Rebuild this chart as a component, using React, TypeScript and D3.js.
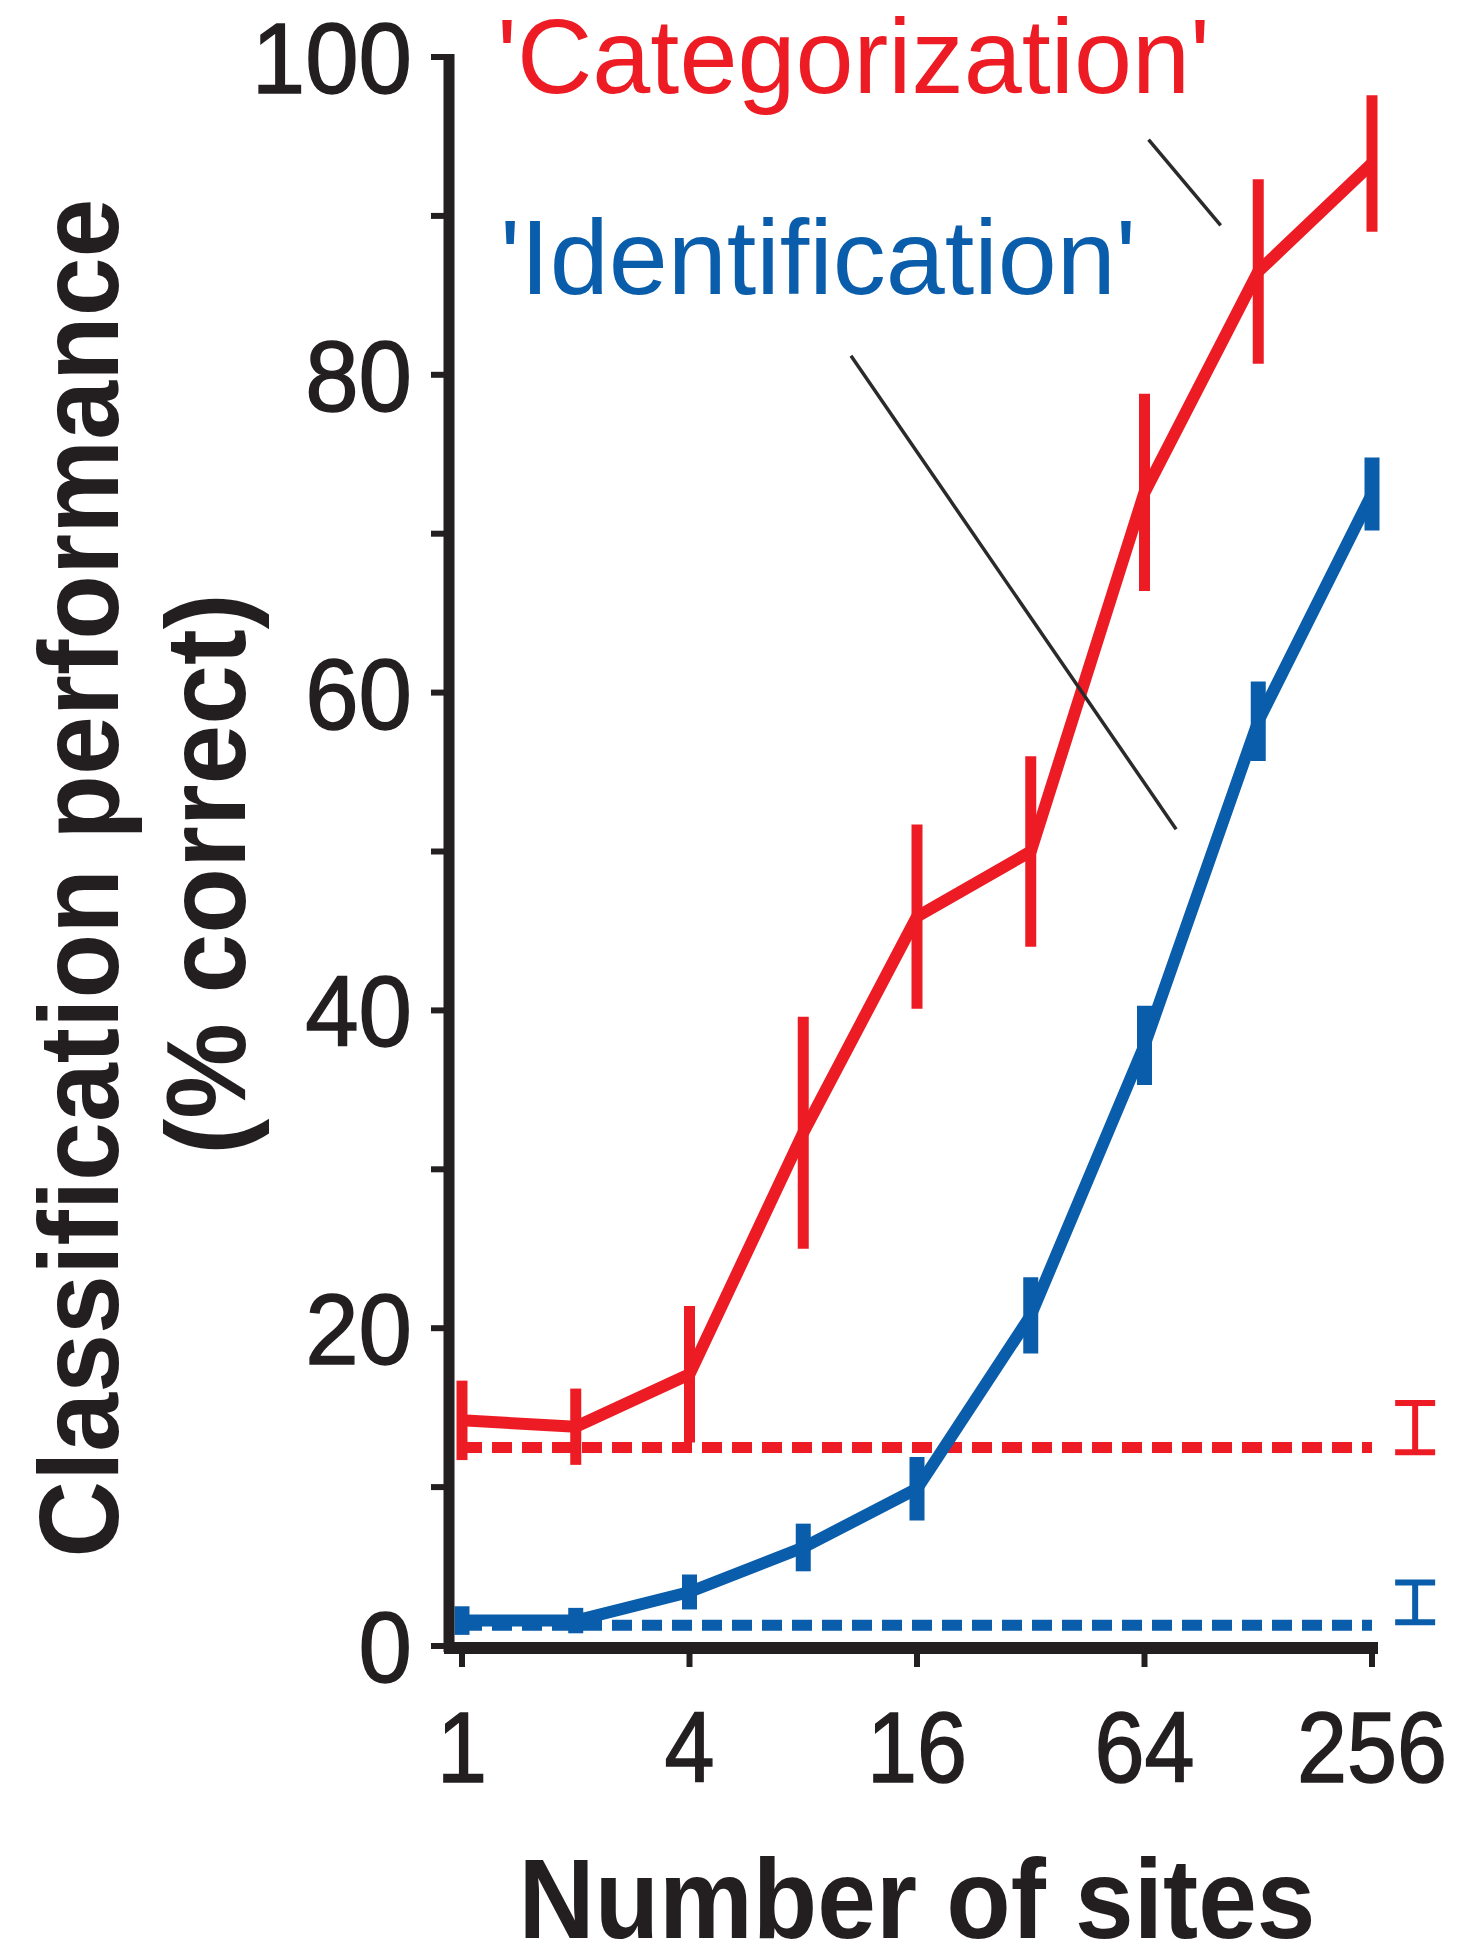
import React from "react";
import * as d3 from "d3";

const sites = [1, 2, 4, 8, 16, 32, 64, 128, 256];
const catMean = [14.2, 13.8, 17.1, 32.3, 45.9, 50.0, 72.6, 86.5, 93.3];
const catErr = [2.5, 2.4, 4.3, 7.3, 5.8, 6.0, 6.2, 5.8, 4.3];
const idMean = [1.6, 1.6, 3.4, 6.2, 9.9, 20.8, 37.8, 58.2, 72.5];
const idErr = [0.9, 0.8, 1.1, 1.5, 2.0, 2.4, 2.5, 2.5, 2.3];
const catChance = 12.5;
const idChance = 1.3;
const catChanceRange = [12.2, 15.3];
const idChanceRange = [1.5, 4.0];
const chanceRangeSite = 333;
const xTicks = [1, 4, 16, 64, 256];
const yTicks = [0, 10, 20, 30, 40, 50, 60, 70, 80, 90, 100];
const yTickLabels = [0, 20, 40, 60, 80, 100];
const catLeader = [[65.6, 94.8], [101.8, 89.4]];
const idLeader = [[10.7, 81.2], [77.6, 51.4]];

const RED = "#ED1C24";
const BLUE = "#0A5DAA";
const BLACK = "#231F20";
const FONT = "'Liberation Sans', Arial, Helvetica, sans-serif";

export default function App() {
  const W = 1461;
  const H = 1947;
  const x = d3.scaleLog().base(2).domain([1, 256]).range([462, 1372]);
  const y = d3.scaleLinear().domain([0, 100]).range([1646, 57]);

  const line = d3
    .line<number>()
    .x((_, i) => x(sites[i]))
    .y((d) => y(d));

  const tickFs = 100;
  const tlen = (s: string, c: number) => s.length * 0.556 * tickFs * c;

  return (
    <div style={{ position: "absolute", left: 0, top: 0 }}>
      <svg width={W} height={H} style={{ display: "block", background: "#fff" }}>
        {/* chance dashed lines */}
        <line
          x1={x(1)}
          x2={x(256)}
          y1={y(catChance)}
          y2={y(catChance)}
          stroke={RED}
          strokeWidth={11}
          strokeDasharray="20 10"
        />
        <line
          x1={x(1)}
          x2={x(256)}
          y1={y(idChance)}
          y2={y(idChance)}
          stroke={BLUE}
          strokeWidth={11}
          strokeDasharray="20 10"
        />

        {/* chance range bars on the right */}
        {[
          { r: catChanceRange, c: RED },
          { r: idChanceRange, c: BLUE },
        ].map((b, i) => (
          <g key={i} stroke={b.c} strokeWidth={6} fill="none">
            <line x1={x(chanceRangeSite)} x2={x(chanceRangeSite)} y1={y(b.r[0])} y2={y(b.r[1])} />
            <line x1={x(chanceRangeSite) - 20} x2={x(chanceRangeSite) + 20} y1={y(b.r[0])} y2={y(b.r[0])} />
            <line x1={x(chanceRangeSite) - 20} x2={x(chanceRangeSite) + 20} y1={y(b.r[1])} y2={y(b.r[1])} />
          </g>
        ))}

        {/* identification series */}
        <path d={line(idMean) || ""} fill="none" stroke={BLUE} strokeWidth={12} strokeLinejoin="round" />
        {idMean.map((m, i) => (
          <line
            key={"ib" + i}
            x1={x(sites[i])}
            x2={x(sites[i])}
            y1={y(m - idErr[i])}
            y2={y(m + idErr[i])}
            stroke={BLUE}
            strokeWidth={15}
          />
        ))}

        {/* categorization series */}
        <path d={line(catMean) || ""} fill="none" stroke={RED} strokeWidth={12} strokeLinejoin="round" />
        {catMean.map((m, i) => (
          <line
            key={"cb" + i}
            x1={x(sites[i])}
            x2={x(sites[i])}
            y1={y(m - catErr[i])}
            y2={y(m + catErr[i])}
            stroke={RED}
            strokeWidth={11}
          />
        ))}

        {/* leader lines */}
        {[catLeader, idLeader].map((l, i) => (
          <line
            key={"ld" + i}
            x1={x(l[0][0])}
            y1={y(l[0][1])}
            x2={x(l[1][0])}
            y2={y(l[1][1])}
            stroke="#2a2a2a"
            strokeWidth={3.5}
          />
        ))}

        {/* y axis */}
        <line x1={449} x2={449} y1={y(100) - 3} y2={y(0) + 6} stroke={BLACK} strokeWidth={11} />
        {yTicks.map((t) => (
          <line key={"yt" + t} x1={431} x2={449} y1={y(t)} y2={y(t)} stroke={BLACK} strokeWidth={6} />
        ))}
        {yTickLabels.map((t) => {
          const s = String(t);
          const L = tlen(s, 0.96);
          return (
            <text
              key={"yl" + t}
              x={412 - L}
              y={y(t)}
              dy="0.36em"
              fontFamily={FONT}
              fontSize={tickFs}
              fill={BLACK}
              stroke={BLACK}
              strokeWidth={1.5}
              textLength={L}
              lengthAdjust="spacingAndGlyphs"
            >
              {s}
            </text>
          );
        })}

        {/* x axis */}
        <line x1={444} x2={1378} y1={1648} y2={1648} stroke={BLACK} strokeWidth={12} />
        {xTicks.map((t) => (
          <line key={"xt" + t} x1={x(t)} x2={x(t)} y1={1648} y2={1667} stroke={BLACK} strokeWidth={6} />
        ))}
        {xTicks.map((t) => {
          const s = String(t);
          const L = tlen(s, 0.9);
          return (
            <text
              key={"xl" + t}
              x={x(t) - L / 2}
              y={1782}
              fontFamily={FONT}
              fontSize={tickFs}
              fill={BLACK}
              stroke={BLACK}
              strokeWidth={1.5}
              textLength={L}
              lengthAdjust="spacingAndGlyphs"
            >
              {s}
            </text>
          );
        })}

        {/* axis titles */}
        <text
          x={917 - 797 / 2}
          y={1938}
          fontFamily={FONT}
          fontWeight="bold"
          fontSize={114}
          fill={BLACK}
          textLength={797}
          lengthAdjust="spacingAndGlyphs"
        >
          Number of sites
        </text>
        <g transform="translate(118, 878) rotate(-90)">
          <text
            x={-1359 / 2}
            y={0}
            fontFamily={FONT}
            fontWeight="bold"
            fontSize={114}
            fill={BLACK}
            textLength={1359}
            lengthAdjust="spacingAndGlyphs"
          >
            Classification performance
          </text>
        </g>
        <g transform="translate(245, 874) rotate(-90)">
          <text
            x={-561 / 2}
            y={0}
            fontFamily={FONT}
            fontWeight="bold"
            fontSize={114}
            fill={BLACK}
            textLength={561}
            lengthAdjust="spacingAndGlyphs"
          >
            (% correct)
          </text>
        </g>

        {/* series labels */}
        <text
          x={497}
          y={93}
          fontFamily={FONT}
          fontSize={106}
          fill={RED}
          textLength={713}
          lengthAdjust="spacingAndGlyphs"
        >
          'Categorization'
        </text>
        <text
          x={500}
          y={294}
          fontFamily={FONT}
          fontSize={106}
          fill={BLUE}
          textLength={636}
          lengthAdjust="spacingAndGlyphs"
        >
          'Identification'
        </text>
      </svg>
    </div>
  );
}
